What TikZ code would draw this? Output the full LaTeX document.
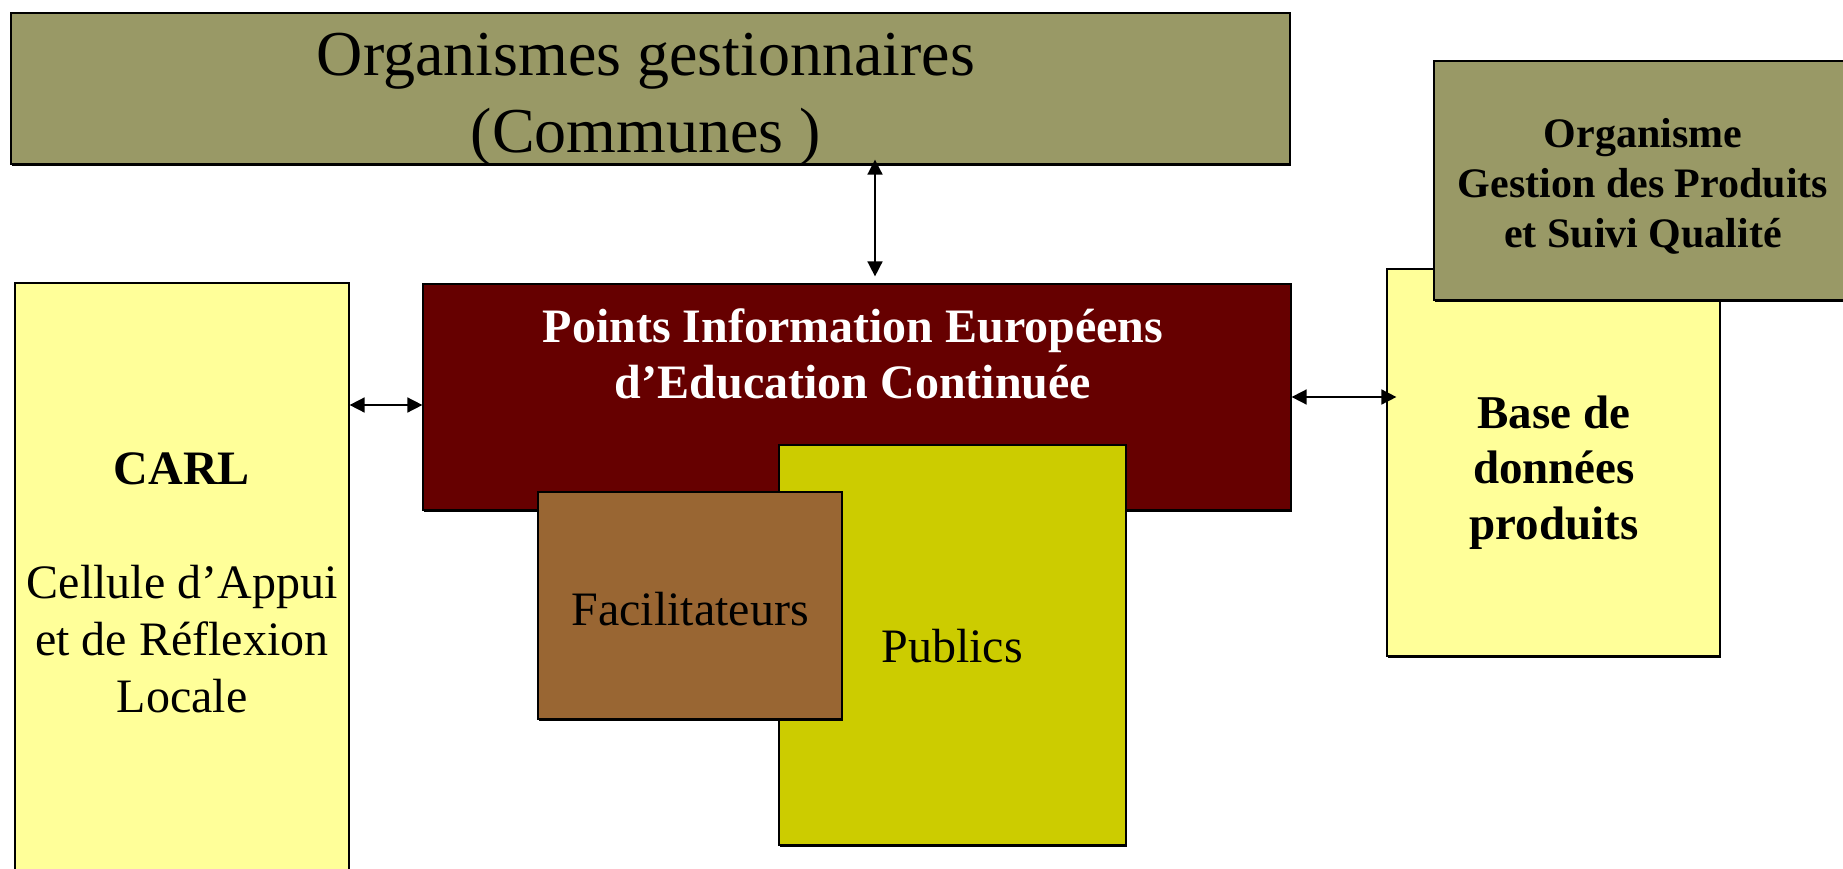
\documentclass[tikz,border=0pt]{standalone}
\usepackage{fontspec}
\setmainfont{Liberation Serif}
\usetikzlibrary{arrows.meta, shadows}

\definecolor{gestolive}{HTML}{999966}
\definecolor{paleyellow}{HTML}{FFFF99}
\definecolor{piered}{HTML}{660000}
\definecolor{facilbrown}{HTML}{996633}
\definecolor{publicsgreen}{HTML}{CCCC00}

\tikzset{
  panel/.style={draw, rectangle, line width=1.2pt, inner sep=0pt,
    drop shadow={shadow xshift=0.6pt, shadow yshift=-2.2pt, fill=black, opacity=1}},
  txt/.style={inner sep=0pt, align=center},
  link/.style={<->, line width=1.6pt}
}

\begin{document}
\begin{tikzpicture}[x=1pt, y=-1pt, >={Triangle[length=15pt, width=15pt]}]

\useasboundingbox (0, 0) rectangle (1843, 869);

\node (orgs)    at (650.5, 88.5)   [panel, fill=gestolive, minimum width=1279pt, minimum height=151pt] {};
\node (carl)    at (182, 591.5)    [panel, fill=paleyellow, minimum width=334pt, minimum height=617pt] {};
\node (pie)     at (857, 397)      [panel, fill=piered, minimum width=868pt, minimum height=226pt] {};
\node (publics) at (952.5, 645)    [panel, fill=publicsgreen, minimum width=347pt, minimum height=400pt] {};
\node (facil)   at (690, 605.5)    [panel, fill=facilbrown, minimum width=304pt, minimum height=227pt] {};
\node (base)    at (1553.5, 462.5) [panel, fill=paleyellow, minimum width=333pt, minimum height=387pt] {};
\node (gestion) at (1667, 180.5)   [panel, fill=gestolive, minimum width=466pt, minimum height=239pt] {};

\node (orgstxt)    at (646, 100)  [txt, font=\fontsize{64}{77}\selectfont] {Organismes gestionnaires\\(Communes )};
\node (gestiontxt) at (1643, 186) [txt, font=\fontsize{42}{50}\selectfont\bfseries] {Organisme\\Gestion des Produits\\et Suivi Qualité};
\node (pietxt)     at (853, 354)  [txt, text=white, font=\fontsize{48}{56}\selectfont\bfseries] {Points Information Européens\\d’Education Continuée};
\node (carltxt)    at (182, 582.5) [txt, font=\fontsize{48}{57}\selectfont] {\textbf{CARL}\\[57pt]Cellule d’Appui\\et de Réflexion\\Locale};
\node (basetxt)    at (1554, 472.5) [txt, font=\fontsize{47}{55.5}\selectfont\bfseries] {Base de\\données\\produits};
\node (faciltxt)   at (690, 625)  [txt, anchor=base, font=\fontsize{48}{57}\selectfont] {Facilitateurs};
\node (publicstxt) at (952, 662)  [txt, anchor=base, font=\fontsize{48}{57}\selectfont] {Publics};

\coordinate (vx) at (875, 0);
\coordinate (ly) at (0, 405);
\coordinate (ry) at (0, 397);

\path[link] (orgs.south -| vx) edge [shorten <=-5pt, shorten >=7pt] (pie.north -| vx);
\path[link] (carl.east |- ly) edge (pie.west |- ly);
\path[link] (pie.east |- ry) edge [shorten >=-10pt] (base.west |- ry);

\end{tikzpicture}
\end{document}
